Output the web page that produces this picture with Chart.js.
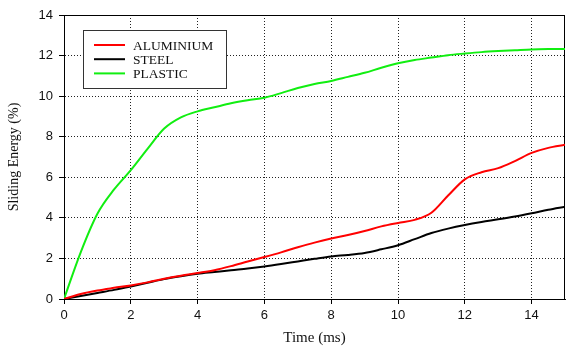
<!DOCTYPE html>
<html>
<head>
<meta charset="utf-8">
<script src="https://cdn.jsdelivr.net/npm/chart.js@4.4.1/dist/chart.umd.min.js"></script>
<style>
  html, body { margin: 0; padding: 0; background: #fff; }
</style>
</head>
<body>
<canvas id="energyChart" width="566" height="347"></canvas>
<script>
// Time axis (ms), sampled every 0.5 ms
const time = [0, 0.5, 1, 1.5, 2, 2.5, 3, 3.5, 4, 4.5, 5, 5.5, 6, 6.5, 7, 7.5,
              8, 8.5, 9, 9.5, 10, 10.5, 11, 11.5, 12, 12.5, 13, 13.5, 14, 14.5, 15];

// Sliding energy (%) per material
const aluminium = [0, 0.25, 0.42, 0.55, 0.67, 0.82, 1.0, 1.15, 1.28, 1.42, 1.62, 1.85, 2.07, 2.3, 2.55, 2.78,
                   2.98, 3.15, 3.35, 3.58, 3.75, 3.9, 4.25, 5.1, 5.9, 6.25, 6.45, 6.8, 7.2, 7.45, 7.6];
const steel = [0, 0.15, 0.3, 0.45, 0.62, 0.8, 0.98, 1.12, 1.24, 1.33, 1.42, 1.5, 1.6, 1.72, 1.85, 1.98,
               2.1, 2.17, 2.27, 2.45, 2.65, 2.95, 3.25, 3.47, 3.65, 3.8, 3.93, 4.07, 4.23, 4.4, 4.55];
const plastic = [0, 2.3, 4.2, 5.4, 6.35, 7.4, 8.4, 8.95, 9.25, 9.45, 9.65, 9.8, 9.92, 10.15, 10.4, 10.6,
                 10.75, 10.95, 11.15, 11.4, 11.62, 11.78, 11.9, 12.02, 12.1, 12.17, 12.22, 12.26, 12.3, 12.32, 12.33];

const seriesNames = ['ALUMINIUM', 'STEEL', 'PLASTIC'];
const seriesColors = ['#ff0000', '#000000', '#11ee11'];

// Tick values
const xTicks = [0, 2, 4, 6, 8, 10, 12, 14];
const yTicks = [0, 2, 4, 6, 8, 10, 12, 14];

const toPoints = values => time.map((t, i) => ({ x: t, y: values[i] }));

// Box around the plot area
const framePlugin = {
  id: 'frame',
  beforeDatasetsDraw(chart) {
    const { ctx, chartArea: a } = chart;
    ctx.save();
    ctx.setLineDash([]);
    ctx.strokeStyle = '#000';
    ctx.lineWidth = 1;
    ctx.strokeRect(a.left + 0.5, a.top + 0.5, a.right - a.left - 1, a.bottom - a.top);
    ctx.restore();
  }
};

// Legend box drawn inside the plot (top-left), like the original figure
const boxLegend = {
  id: 'boxLegend',
  afterDatasetsDraw(chart) {
    const ctx = chart.ctx;
    const x = 83.5, y = 30.5, w = 143, h = 58;
    ctx.save();
    ctx.setLineDash([]);
    ctx.fillStyle = '#fff';
    ctx.fillRect(x, y, w, h);
    ctx.strokeStyle = '#333';
    ctx.lineWidth = 1;
    ctx.strokeRect(x, y, w, h);
    ctx.font = '13.5px "Liberation Serif", "Times New Roman", serif';
    ctx.textBaseline = 'middle';
    chart.data.datasets.forEach((ds, i) => {
      const rowY = 45 + i * 14.2;
      ctx.strokeStyle = ds.borderColor;
      ctx.lineWidth = 2;
      ctx.beginPath();
      ctx.moveTo(94, rowY);
      ctx.lineTo(125, rowY);
      ctx.stroke();
      ctx.fillStyle = '#111';
      ctx.fillText(ds.label, 133, rowY + 1);
    });
    ctx.restore();
  }
};

const gridStyle = {
  color: '#222',
  lineWidth: 1,
  drawTicks: true,
  tickLength: 5,
  tickColor: '#000',
  tickBorderDash: []
};
const borderStyle = { display: true, color: '#000', width: 1, dash: [1, 2] };

const ctx = document.getElementById('energyChart').getContext('2d');

new Chart(ctx, {
  type: 'line',
  data: {
    datasets: [
      { label: seriesNames[0], data: toPoints(aluminium), borderColor: seriesColors[0] },
      { label: seriesNames[1], data: toPoints(steel), borderColor: seriesColors[1] },
      { label: seriesNames[2], data: toPoints(plastic), borderColor: seriesColors[2] }
    ]
  },
  options: {
    responsive: false,
    devicePixelRatio: 1,
    animation: false,
    layout: { padding: { top: 15, right: 1, left: 0, bottom: 0 } },
    elements: {
      point: { radius: 0 },
      line: { borderWidth: 2, cubicInterpolationMode: 'monotone', fill: false }
    },
    scales: {
      x: {
        type: 'linear',
        min: 0,
        max: 15,
        afterBuildTicks: scale => { scale.ticks = xTicks.map(v => ({ value: v })); },
        afterFit: scale => { scale.height = 48; },
        grid: gridStyle,
        border: borderStyle,
        ticks: {
          color: '#111',
          padding: 4,
          maxRotation: 0,
          font: { family: '"Liberation Sans", Arial, sans-serif', size: 13 }
        },
        title: {
          display: true,
          text: 'Time (ms)',
          color: '#111',
          padding: { top: 0, bottom: 0 },
          font: { family: '"Liberation Serif", "Times New Roman", serif', size: 15 }
        }
      },
      y: {
        type: 'linear',
        min: 0,
        max: 14,
        afterBuildTicks: scale => { scale.ticks = yTicks.map(v => ({ value: v })); },
        afterFit: scale => { scale.width = 64; },
        grid: gridStyle,
        border: borderStyle,
        ticks: {
          color: '#111',
          padding: 6,
          font: { family: '"Liberation Sans", Arial, sans-serif', size: 13 }
        },
        title: {
          display: true,
          text: 'Sliding Energy (%)',
          color: '#111',
          padding: { top: 6, bottom: 0 },
          font: { family: '"Liberation Serif", "Times New Roman", serif', size: 14 }
        }
      }
    },
    plugins: {
      legend: { display: false },
      tooltip: { enabled: false }
    }
  },
  plugins: [framePlugin, boxLegend]
});
</script>
</body>
</html>
